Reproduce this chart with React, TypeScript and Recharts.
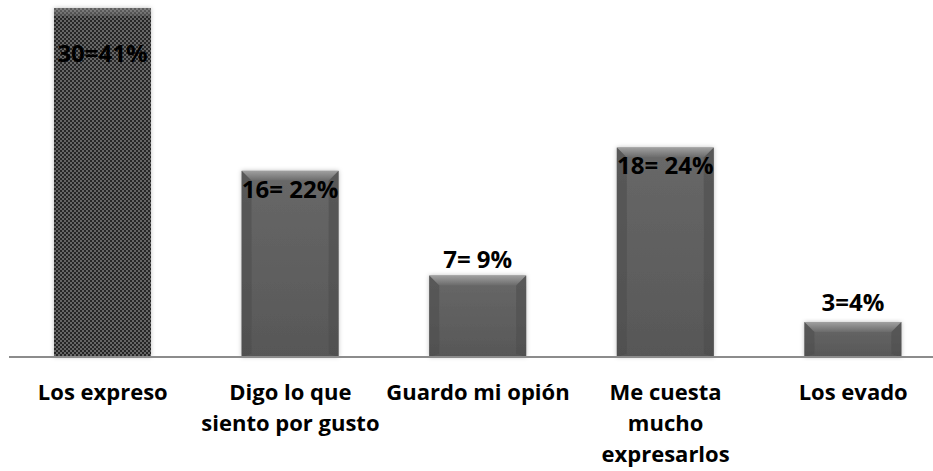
import { BarChart, Bar, XAxis, YAxis, LabelList } from "recharts";

const categories = [
  "Los expreso",
  "Digo lo que\nsiento por gusto",
  "Guardo mi opión",
  "Me cuesta\nmucho\nexpresarlos",
  "Los evado",
];
const counts = [30, 16, 7, 18, 3];
const valueLabels = ["30=41%", "16= 22%", "7= 9%", "18= 24%", "3=4%"];

const data = categories.map((name, i) => ({
  name,
  count: counts[i],
  label: valueLabels[i],
}));

// where each label's centre sits relative to the bar top (Excel had them hand-placed)
const labelShift = [44, 18, -17, 17, -21];

const FONT = "'Open Sans', Lato, sans-serif";

const BevelBar = (props: any) => {
  const { x, y, width, height, index } = props;
  if (!height || height <= 0) return null;
  const b = Math.min(10, height / 3);
  const fill = index === 0 ? "url(#checker)" : "url(#barBody)";
  return (
    <g filter="url(#barShadow)">
      <rect x={x} y={y} width={width} height={height} fill={fill} />
      {index !== 0 && (
        <>
          <polygon
            points={`${x},${y} ${x + width},${y} ${x + width - b},${y + b} ${x + b},${y + b}`}
            fill="url(#bevelTop)"
          />
          <polygon
            points={`${x},${y} ${x + b},${y + b} ${x + b},${y + height - 3} ${x},${y + height}`}
            fill="#4a4a4a"
            opacity={0.5}
          />
          <polygon
            points={`${x + width},${y} ${x + width - b},${y + b} ${x + width - b},${y + height - 3} ${x + width},${y + height}`}
            fill="#4a4a4a"
            opacity={0.5}
          />
        </>
      )}
      {index === 0 && (
        <rect x={x} y={y} width={width} height={8} fill="url(#bevelTop)" opacity={0.5} />
      )}
    </g>
  );
};

const ValueLabel = (props: any) => {
  const { x, y, width, index, value } = props;
  return (
    <text
      x={x + width / 2}
      y={y + labelShift[index]}
      textAnchor="middle"
      dominantBaseline="central"
      fontFamily={FONT}
      fontWeight={700}
      fontSize={24}
      fill="#000"
    >
      {value}
    </text>
  );
};

const CategoryTick = ({ x, y, payload }: any) => {
  const lines = String(payload.value).split("\n");
  return (
    <text
      x={x}
      y={y}
      textAnchor="middle"
      fontFamily={FONT}
      fontWeight={700}
      fontSize={22}
      fill="#000"
    >
      {lines.map((line, i) => (
        <tspan key={i} x={x} dy={i === 0 ? 43 : 31}>
          {line}
        </tspan>
      ))}
    </text>
  );
};

export default function App() {
  return (
    <div style={{ width: 933, height: 471, overflow: "hidden", background: "#fff" }}>
      <style>{`body{margin:0}`}</style>
      <BarChart
        width={933}
        height={471}
        data={data}
        margin={{ top: 8, right: -14, left: 9, bottom: 0 }}
        barCategoryGap="0%"
      >
        <defs>
          <pattern id="checker" width="4" height="4" patternUnits="userSpaceOnUse">
            <rect width="4" height="4" fill="#262626" />
            <rect width="2" height="2" fill="#666666" />
            <rect x="2" y="2" width="2" height="2" fill="#666666" />
          </pattern>
          <linearGradient id="barBody" x1="0" y1="0" x2="0" y2="1">
            <stop offset="0%" stopColor="#686868" />
            <stop offset="100%" stopColor="#575757" />
          </linearGradient>
          <linearGradient id="bevelTop" x1="0" y1="0" x2="0" y2="1">
            <stop offset="0%" stopColor="#a0a0a0" />
            <stop offset="100%" stopColor="#6a6a6a" />
          </linearGradient>
          <filter id="barShadow" x="-10%" y="-10%" width="120%" height="120%">
            <feDropShadow dx="0" dy="0" stdDeviation="2" floodColor="#000" floodOpacity="0.25" />
          </filter>
        </defs>
        <XAxis
          dataKey="name"
          height={114}
          interval={0}
          tickLine={false}
          tickSize={0}
          tickMargin={0}
          axisLine={{ stroke: "#8c8c8c", strokeWidth: 2 }}
          tick={<CategoryTick />}
        />
        <YAxis hide domain={[0, 30]} />
        <Bar
          dataKey="count"
          barSize={97}
          shape={<BevelBar />}
          isAnimationActive={false}
        >
          <LabelList dataKey="label" content={<ValueLabel />} />
        </Bar>
      </BarChart>
    </div>
  );
}
